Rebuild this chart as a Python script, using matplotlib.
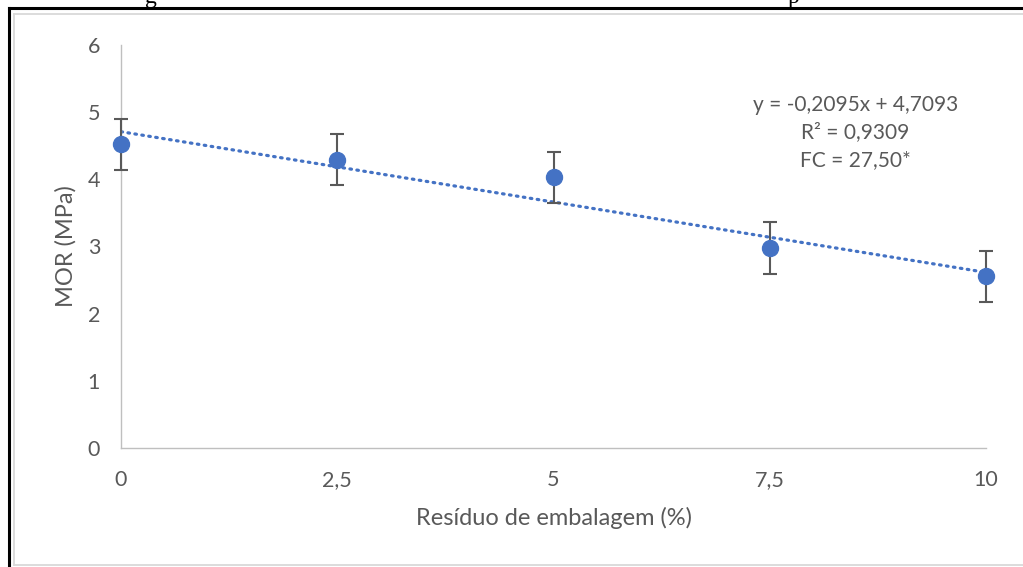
import matplotlib.pyplot as plt
from matplotlib.lines import Line2D

# dados do grafico
residuo = [0, 2.5, 5, 7.5, 10]
mor = [4.52, 4.29, 4.03, 2.98, 2.56]
erro = [0.38, 0.38, 0.38, 0.39, 0.38]
x_ticks = [0, 2.5, 5, 7.5, 10]
x_labels = ["0", "2,5", "5", "7,5", "10"]
y_ticks = [0, 1, 2, 3, 4, 5, 6]

# coeficientes da linha de tendencia
a_coef = -0.2095
b_coef = 4.7093
eq_text = "y = -0,2095x + 4,7093\nR² = 0,9309\nFC = 27,50*"

plt.rcParams['font.family'] = ['Lato', 'DejaVu Sans']

fig = plt.figure(figsize=(10.23, 5.67), dpi=100, facecolor='white')
W, H = 1023, 567

# molduras (preta externa e cinza interna)
fig.add_artist(Line2D([8.5 / W, 8.5 / W], [0, 1 - 8 / H], color='black', lw=2.2,
                      transform=fig.transFigure))
fig.add_artist(Line2D([8.5 / W, 1], [1 - 8 / H, 1 - 8 / H], color='black', lw=2.2,
                      transform=fig.transFigure))
fig.add_artist(Line2D([13.5 / W, 13.5 / W], [1 - 565 / H, 1 - 14 / H], color='#d9d9d9', lw=1.3,
                      transform=fig.transFigure))
fig.add_artist(Line2D([13.5 / W, 1], [1 - 14 / H, 1 - 14 / H], color='#d9d9d9', lw=1.3,
                      transform=fig.transFigure))
fig.add_artist(Line2D([13.5 / W, 1], [1 - 565 / H, 1 - 565 / H], color='#d9d9d9', lw=1.3,
                      transform=fig.transFigure))

# pedacos da legenda cortada no topo
fig.text(151 / W, 1 - 3 / H, "g", family='Liberation Serif', fontsize=17,
         ha='center', va='baseline', color='black')
fig.text(793 / W, 1 - 3 / H, "p", family='Liberation Serif', fontsize=17,
         ha='center', va='baseline', color='black')

x0, x1 = 121, 986
y0, y1 = 45, 448
ax = fig.add_axes([x0 / W, 1 - y1 / H, (x1 - x0) / W, (y1 - y0) / H])
ax.set_xlim(0, 10)
ax.set_ylim(0, 6)
ax.set_facecolor('none')

for s in ['top', 'right']:
    ax.spines[s].set_visible(False)
for s in ['left', 'bottom']:
    ax.spines[s].set_color('#bfbfbf')
    ax.spines[s].set_linewidth(1.0)

ax.set_xticks(x_ticks)
ax.set_xticklabels(x_labels)
ax.set_yticks(y_ticks)
ax.tick_params(length=0, labelsize=15.5, colors='#595959')
ax.tick_params(axis='x', pad=16)
ax.tick_params(axis='y', pad=15)

# linha de tendencia
xt = [0, 10]
yt = [b_coef + a_coef * v for v in xt]
ax.plot(xt, yt, color='#4472c4', lw=2.3, ls=(0, (0.5, 1.7)), dash_capstyle='round', zorder=2)

ax.errorbar(residuo, mor, yerr=erro, fmt='o', color='#4472c4', ms=11.5,
            ecolor='#595959', elinewidth=1.5, capsize=5, capthick=1.5,
            clip_on=False, zorder=3)

ax.text(0.849, 0.875, eq_text, transform=ax.transAxes, ha='center', va='top',
        fontsize=15, color='#595959', linespacing=1.45)

ax.set_xlabel("Resíduo de embalagem (%)", fontsize=17, color='#595959', labelpad=12)
ax.set_ylabel("MOR (MPa)", fontsize=17, color='#595959', labelpad=8)

fig.savefig("out.png", dpi=100, facecolor='white')
